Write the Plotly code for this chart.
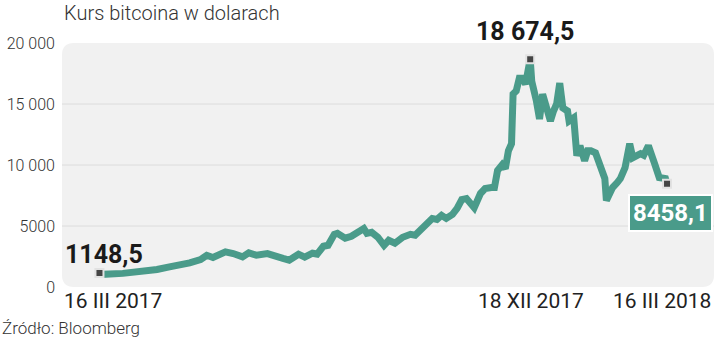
import plotly.graph_objects as go

# ---- data ----
dates = [
    "2017-03-16", "2017-03-18", "2017-03-31", "2017-04-11", "2017-04-22", "2017-04-30",
    "2017-05-07", "2017-05-13", "2017-05-20", "2017-05-24", "2017-05-28", "2017-06-05",
    "2017-06-10", "2017-06-16", "2017-06-20", "2017-06-25", "2017-07-02", "2017-07-07",
    "2017-07-12", "2017-07-16", "2017-07-22", "2017-07-26", "2017-07-31", "2017-08-03",
    "2017-08-07", "2017-08-10", "2017-08-14", "2017-08-16", "2017-08-21", "2017-08-25",
    "2017-08-29", "2017-09-02", "2017-09-04", "2017-09-07", "2017-09-11", "2017-09-15",
    "2017-09-18", "2017-09-22", "2017-09-27", "2017-10-02", "2017-10-05", "2017-10-09",
    "2017-10-13", "2017-10-16", "2017-10-19", "2017-10-22", "2017-10-25", "2017-10-29",
    "2017-11-01", "2017-11-03", "2017-11-04", "2017-11-07", "2017-11-09", "2017-11-12",
    "2017-11-16", "2017-11-19", "2017-11-23", "2017-11-25", "2017-11-27", "2017-11-30",
    "2017-12-02", "2017-12-04", "2017-12-06", "2017-12-07", "2017-12-09", "2017-12-11",
    "2017-12-13", "2017-12-15", "2017-12-18", "2017-12-19", "2017-12-22", "2017-12-24",
    "2017-12-26", "2017-12-29", "2017-12-31", "2018-01-02", "2018-01-04", "2018-01-06",
    "2018-01-08", "2018-01-11", "2018-01-12", "2018-01-15", "2018-01-17", "2018-01-19",
    "2018-01-22", "2018-01-24", "2018-01-26", "2018-01-29", "2018-02-01", "2018-02-04",
    "2018-02-05", "2018-02-09", "2018-02-12", "2018-02-14", "2018-02-17", "2018-02-20",
    "2018-02-22", "2018-02-27", "2018-03-01", "2018-03-04", "2018-03-08", "2018-03-11",
    "2018-03-15", "2018-03-16",
]
prices = [
    1148.5, 1035, 1116, 1250, 1440, 1655,
    1790, 1980, 2250, 2600, 2420, 2880,
    2740, 2470, 2800, 2600, 2740, 2600,
    2340, 2200, 2690, 2450, 2770, 2700,
    3340, 3420, 4320, 4400, 4000, 4160,
    4480, 4800, 4400, 4480, 4080, 3420,
    3830, 3590, 4080, 4320, 4240, 4730,
    5300, 5620, 5540, 5870, 5620, 5950,
    6440, 7090, 7170, 7250, 7010, 6500,
    7660, 8070, 8150, 8150, 9540, 10020,
    9700, 11170, 11740, 15810, 16060, 17120,
    17120, 16630, 18674.5, 16870, 15240, 13770,
    15810, 14180, 13610, 14430, 15000, 16710,
    14670, 14430, 13610, 13870, 10770, 11580,
    10360, 11170, 11170, 11000, 10110, 8890,
    7090, 8150, 8560, 8890, 9780, 11740,
    10600, 10930, 10800, 11580, 10110, 8970,
    8890, 8458.1,
]
marked_dates = ["2017-03-16", "2017-12-18", "2018-03-16"]
marked_values = [1148.5, 18674.5, 8458.1]
marked_labels = ["1148,5", "18 674,5", "8458,1"]

y_tickvals = [0, 5000, 10000, 15000, 20000]
y_ticktext = ["0", "5000", "10 000", "15 000", "20 000"]
grid_values = [5000, 10000, 15000]
x_labels = ["16 III 2017", "18 XII 2017", "16 III 2018"]

title = "Kurs bitcoina w dolarach"
source = "Źródło: Bloomberg"

TEAL = "#4a9b8a"
FONT = "Roboto"

fig = go.Figure()
fig.add_trace(go.Scatter(
    x=dates, y=prices, mode="lines",
    line=dict(color=TEAL, width=7, shape="linear"),
    hoverinfo="skip", showlegend=False,
))
fig.add_trace(go.Scatter(
    x=marked_dates, y=marked_values, mode="markers",
    marker=dict(symbol="square", size=8, color="#454545",
                line=dict(color="#e2e2e2", width=2)),
    hoverinfo="skip", showlegend=False,
))

# rounded grey panel
W, H = 652.0, 244.0
r = 12
rx, ry = r / W, r / H
path = (f"M {rx},0 L {1-rx},0 Q 1,0 1,{ry} L 1,{1-ry} Q 1,1 {1-rx},1 "
        f"L {rx},1 Q 0,1 0,{1-ry} L 0,{ry} Q 0,0 {rx},0 Z")
shapes = [dict(type="path", xref="paper", yref="paper", path=path,
               fillcolor="#f1f1f1", line=dict(width=0), layer="below")]
for g in grid_values:
    shapes.append(dict(type="line", xref="paper", yref="y", x0=0, x1=1, y0=g, y1=g,
                       line=dict(color="#dcdcdc", width=1), layer="below"))

annotations = [
    dict(text=title, xref="paper", yref="paper", x=0, y=1, xanchor="left",
         yanchor="bottom", yshift=16, showarrow=False,
         font=dict(family=FONT, size=20, color="#333", weight=300)),
    dict(text=source, xref="paper", yref="paper", x=-62 / W, y=0, xanchor="left",
         yanchor="middle", yshift=-41, showarrow=False,
         font=dict(family=FONT, size=17, color="#333", weight=300)),
    # x labels
    dict(text=x_labels[0], xref="x", yref="paper", x=marked_dates[0], y=0,
         xanchor="left", xshift=-37, yanchor="middle", yshift=-14, showarrow=False,
         font=dict(family=FONT, size=21, color="#222")),
    dict(text=x_labels[1], xref="x", yref="paper", x=marked_dates[1], y=0,
         xanchor="center", xshift=1, yanchor="middle", yshift=-14, showarrow=False,
         font=dict(family=FONT, size=21, color="#222")),
    dict(text=x_labels[2], xref="x", yref="paper", x=marked_dates[2], y=0,
         xanchor="right", xshift=46, yanchor="middle", yshift=-14, showarrow=False,
         font=dict(family=FONT, size=21, color="#222")),
    # value labels
    dict(text=marked_labels[0], xref="x", yref="y", x=marked_dates[0], y=marked_values[0],
         xanchor="left", xshift=-36, yanchor="middle", yshift=18, showarrow=False,
         font=dict(family=FONT, size=25, color="#1a1a1a", weight=700)),
    dict(text=marked_labels[1], xref="x", yref="y", x=marked_dates[1], y=marked_values[1],
         xanchor="center", xshift=-5, yanchor="middle", yshift=28, showarrow=False,
         font=dict(family=FONT, size=25, color="#1a1a1a", weight=700)),
    dict(text=marked_labels[2], xref="x", yref="y", x=marked_dates[2], y=marked_values[2],
         xanchor="center", xshift=3, yanchor="middle", yshift=-29, showarrow=False,
         bgcolor=TEAL, bordercolor="white", borderwidth=2, borderpad=3,
         font=dict(family=FONT, size=24, color="white", weight=700)),
]

fig.update_layout(
    width=720, height=347,
    margin=dict(l=62, r=6, t=43, b=60, pad=0),
    paper_bgcolor="white", plot_bgcolor="rgba(0,0,0,0)",
    shapes=shapes, annotations=annotations,
    xaxis=dict(type="date", range=["2017-02-19 21:36", "2018-04-15 05:00"],
               showgrid=False, zeroline=False, showticklabels=False, ticks="",
               showline=False, fixedrange=True),
    yaxis=dict(range=[0, 20000], tickvals=y_tickvals, ticktext=y_ticktext,
               showgrid=False, zeroline=False, showline=False, ticks="",
               ticklabelstandoff=6,
               tickfont=dict(family=FONT, size=16, color="#333", weight=300),
               fixedrange=True),
    showlegend=False,
)

fig.write_html("out.html")
